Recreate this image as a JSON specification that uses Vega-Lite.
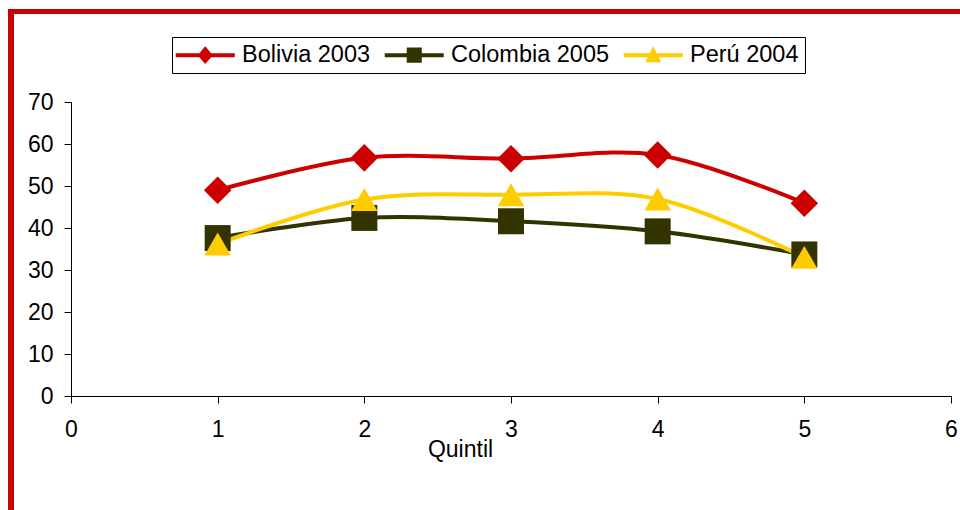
{
  "$schema": "https://vega.github.io/schema/vega-lite/v6.json",
  "width": 880,
  "height": 294,
  "autosize": "none",
  "padding": {"left": 71, "top": 102, "right": 9, "bottom": 114},
  "background": "#ffffff",
  "config": {
    "view": {"stroke": null},
    "font": "Liberation Sans",
    "axis": {
      "domainColor": "#000000",
      "tickColor": "#000000",
      "labelColor": "#000000",
      "titleColor": "#000000",
      "labelFont": "Liberation Sans",
      "titleFont": "Liberation Sans",
      "labelFontSize": 23,
      "titleFontSize": 23,
      "titleFontWeight": "normal",
      "grid": false,
      "tickSize": 7,
      "domainWidth": 1,
      "tickWidth": 1
    }
  },
  "data": {
    "values": [
      {"pais": "Bolivia 2003", "quintil": 1, "valor": 49.0},
      {"pais": "Bolivia 2003", "quintil": 2, "valor": 56.7},
      {"pais": "Bolivia 2003", "quintil": 3, "valor": 56.5},
      {"pais": "Bolivia 2003", "quintil": 4, "valor": 57.4},
      {"pais": "Bolivia 2003", "quintil": 5, "valor": 45.9},
      {"pais": "Colombia 2005", "quintil": 1, "valor": 37.6},
      {"pais": "Colombia 2005", "quintil": 2, "valor": 42.4},
      {"pais": "Colombia 2005", "quintil": 3, "valor": 41.6},
      {"pais": "Colombia 2005", "quintil": 4, "valor": 39.2},
      {"pais": "Colombia 2005", "quintil": 5, "valor": 33.7},
      {"pais": "Perú 2004", "quintil": 1, "valor": 36.2},
      {"pais": "Perú 2004", "quintil": 2, "valor": 46.8},
      {"pais": "Perú 2004", "quintil": 3, "valor": 47.9},
      {"pais": "Perú 2004", "quintil": 4, "valor": 46.9},
      {"pais": "Perú 2004", "quintil": 5, "valor": 33.0}
    ]
  },
  "layer": [
    {
      "mark": {"type": "line", "strokeWidth": 4, "interpolate": "catmull-rom"},
      "encoding": {
        "x": {
          "field": "quintil",
          "type": "quantitative",
          "scale": {"domain": [0, 6], "nice": false, "zero": false},
          "axis": {
            "title": "Quintil",
            "values": [0, 1, 2, 3, 4, 5, 6],
            "format": "d",
            "labelPadding": 15,
            "titleX": 389,
            "titleY": 42,
            "titleAlign": "center",
            "titleBaseline": "top",
            "labelFlush": false,
            "labelOverlap": false
          }
        },
        "y": {
          "field": "valor",
          "type": "quantitative",
          "scale": {"domain": [0, 70], "nice": false},
          "axis": {
            "title": null,
            "values": [0, 10, 20, 30, 40, 50, 60, 70],
            "labelPadding": 11,
            "labelFlush": false,
            "labelOverlap": false
          }
        },
        "color": {
          "field": "pais",
          "type": "nominal",
          "scale": {
            "domain": ["Bolivia 2003", "Colombia 2005", "Perú 2004"],
            "range": ["#CC0000", "#333300", "#FFCC00"]
          },
          "legend": {
            "title": null,
            "orient": "none",
            "legendX": 101,
            "legendY": -65,
            "direction": "horizontal",
            "strokeColor": "#000000",
            "fillColor": "#ffffff",
            "padding": 6,
            "labelFont": "Liberation Sans",
            "labelFontSize": 23.5,
            "labelColor": "#000000",
            "symbolSize": 256,
            "symbolOffset": 15.5,
            "labelOffset": 25,
            "columnPadding": 13,
            "symbolStrokeWidth": 0,
            "encode": {
              "symbols": {
                "update": {
                  "shape": {"signal": "datum.value === 'Bolivia 2003' ? 'M-3.69,-0.25H-0.738L0,-1.12L0.738,-0.25H3.69V0.25H0.738L0,1.12L-0.738,0.25H-3.69Z' : datum.value === 'Colombia 2005' ? 'M-3.69,-0.25H-0.94V-0.94H0.94V-0.25H3.69V0.25H0.94V0.94H-0.94V0.25H-3.69Z' : 'M-3.69,-0.25H-0.425L0,-1.1L0.425,-0.25H3.69V0.25H0.675L1,0.9H-1L-0.675,0.25H-3.69Z'"},
                  "fill": {"signal": "datum.value === 'Bolivia 2003' ? '#CC0000' : datum.value === 'Colombia 2005' ? '#333300' : '#FFCC00'"},
                  "stroke": {"value": "transparent"},
                  "strokeWidth": {"value": 0},
                  "opacity": {"value": 1}
                }
              }
            }
          }
        }
      }
    },
    {
      "transform": [{"filter": "datum.pais === 'Bolivia 2003'"}],
      "mark": {"type": "point", "shape": "diamond", "size": 760, "filled": true, "opacity": 1, "strokeWidth": 0},
      "encoding": {
        "x": {"field": "quintil", "type": "quantitative"},
        "y": {"field": "valor", "type": "quantitative"},
        "color": {"field": "pais", "type": "nominal"}
      }
    },
    {
      "transform": [{"filter": "datum.pais === 'Colombia 2005'"}],
      "mark": {"type": "point", "shape": "square", "size": 676, "filled": true, "opacity": 1, "strokeWidth": 0},
      "encoding": {
        "x": {"field": "quintil", "type": "quantitative"},
        "y": {"field": "valor", "type": "quantitative"},
        "color": {"field": "pais", "type": "nominal"}
      }
    },
    {
      "transform": [{"filter": "datum.pais === 'Perú 2004'"}],
      "mark": {"type": "point", "shape": "triangle-up", "size": 700, "filled": true, "opacity": 1, "strokeWidth": 0},
      "encoding": {
        "x": {"field": "quintil", "type": "quantitative"},
        "y": {"field": "valor", "type": "quantitative"},
        "color": {"field": "pais", "type": "nominal"}
      }
    },
    {
      "mark": {"type": "rect", "filled": false, "stroke": "#CC0000", "strokeWidth": 5, "clip": false},
      "encoding": {
        "x": {"datum": -0.409, "type": "quantitative"},
        "x2": {"datum": 7.5},
        "y": {"datum": 91.55, "type": "quantitative"},
        "y2": {"datum": -40}
      }
    }
  ]
}
